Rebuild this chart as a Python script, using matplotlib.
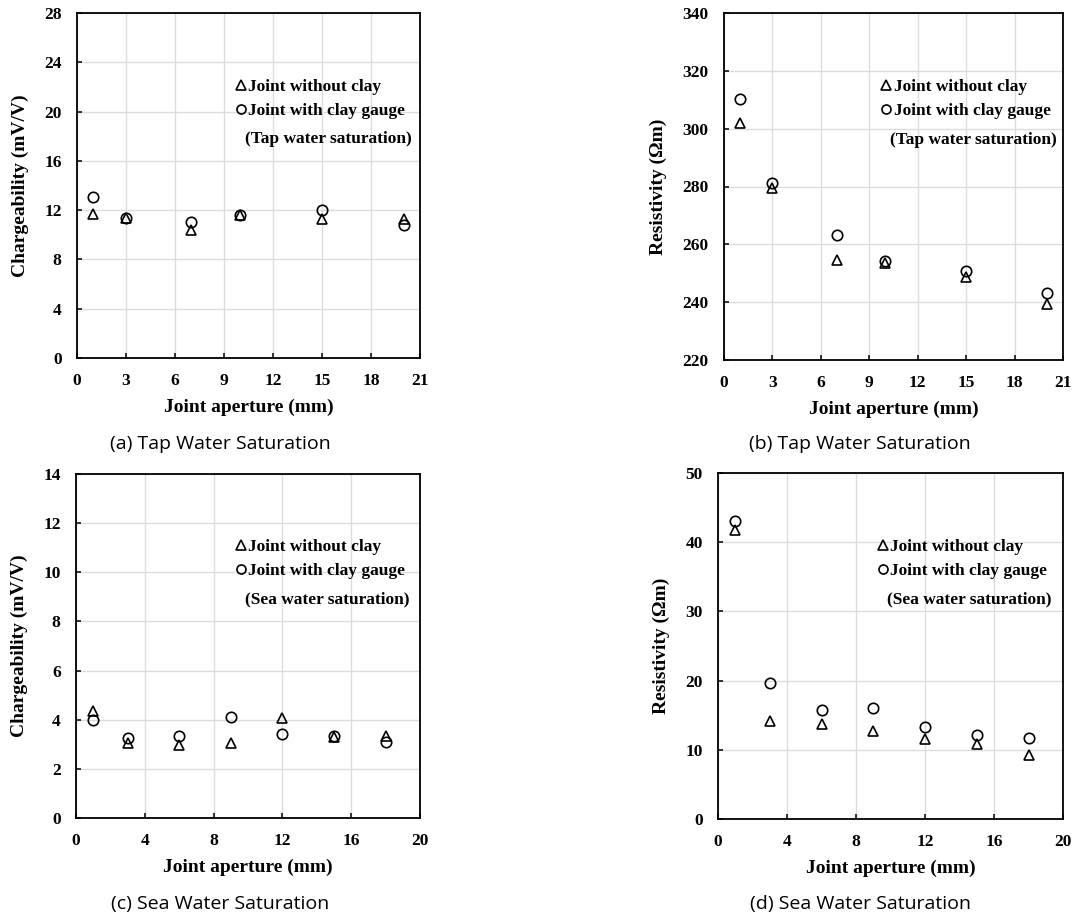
import matplotlib
matplotlib.use("Agg")
import matplotlib.pyplot as plt
from matplotlib.lines import Line2D

# panel (a) / (b): tap water
tap_aperture = [1, 3, 7, 10, 15, 20]
tap_charg_noclay = [11.7, 11.4, 10.4, 11.6, 11.3, 11.3]
tap_charg_clay = [13.1, 11.4, 11.0, 11.6, 12.0, 10.8]
tap_res_noclay = [302.1, 279.5, 254.5, 253.4, 248.7, 239.5]
tap_res_clay = [310.2, 281.3, 263.4, 254.1, 250.7, 243.0]

# panel (c) / (d): sea water
sea_aperture = [1, 3, 6, 9, 12, 15, 18]
sea_charg_noclay = [4.35, 3.06, 2.96, 3.07, 4.07, 3.3, 3.34]
sea_charg_clay = [4.0, 3.25, 3.33, 4.13, 3.41, 3.34, 3.11]
sea_res_noclay = [41.8, 14.1, 13.7, 12.7, 11.6, 10.8, 9.25]
sea_res_clay = [43.0, 19.65, 15.75, 16.0, 13.3, 12.1, 11.75]

captions = ["(a) Tap Water Saturation", "(b) Tap Water Saturation",
            "(c) Sea Water Saturation", "(d) Sea Water Saturation"]

serif = "Liberation Serif"
W, H = 1075, 914
fig = plt.figure(figsize=(W / 100, H / 100), dpi=100)


def make_ax(l, t, r, b):
    return fig.add_axes([l / W, 1 - b / H, (r - l) / W, (b - t) / H])


def style(ax, xlim, xticks, ylim, yticks, ylabel, note):
    ax.set_xlim(*xlim)
    ax.set_ylim(*ylim)
    ax.set_xticks(xticks)
    ax.set_yticks(yticks)
    ax.grid(True, color="#dcdcdc", linewidth=1.0)
    ax.set_axisbelow(True)
    ax.tick_params(axis="both", direction="in", length=3.5, width=1.1)
    ax.tick_params(axis="x", pad=11)
    ax.tick_params(axis="y", pad=11)
    for lab in ax.get_xticklabels() + ax.get_yticklabels():
        lab.set_fontfamily(serif)
        lab.set_fontweight("bold")
        lab.set_fontsize(12.5)
    for s in ax.spines.values():
        s.set_linewidth(1.3)
    ax.set_xlabel("Joint aperture (mm)", fontfamily=serif, fontweight="bold",
                  fontsize=14, labelpad=7)
    ax.set_ylabel(ylabel, fontfamily=serif, fontweight="bold", fontsize=14,
                  labelpad=11)
    handles = [
        Line2D([], [], linestyle="none", marker="^", markersize=7,
               markerfacecolor="none", markeredgecolor="black",
               markeredgewidth=1.2),
        Line2D([], [], linestyle="none", marker="o", markersize=6.5,
               markerfacecolor="none", markeredgecolor="black",
               markeredgewidth=1.2),
    ]
    ax.legend(handles, ["Joint without clay", "Joint with clay gauge"],
              loc="center left", bbox_to_anchor=(0.462, 0.752), frameon=False,
              handletextpad=0.1, handlelength=0.65, labelspacing=0.45,
              borderaxespad=0, borderpad=0,
              prop={"family": serif, "weight": "bold", "size": 12.5})
    ax.text(0.49, 0.635, note, transform=ax.transAxes, ha="left", va="center",
            fontfamily=serif, fontweight="bold", fontsize=12.5)


def scatter(ax, x, y_noclay, y_clay):
    ax.plot(x, y_noclay, linestyle="none", marker="^", markersize=7.5,
            markerfacecolor="none", markeredgecolor="black", markeredgewidth=1.2)
    ax.plot(x, y_clay, linestyle="none", marker="o", markersize=7.5,
            markerfacecolor="none", markeredgecolor="black", markeredgewidth=1.2)


ax_a = make_ax(77, 13, 420, 358)
scatter(ax_a, tap_aperture, tap_charg_noclay, tap_charg_clay)
style(ax_a, (0, 21), range(0, 22, 3), (0, 28), range(0, 29, 4),
      "Chargeability (mV/V)", "(Tap water saturation)")

ax_b = make_ax(724, 13, 1063, 360)
scatter(ax_b, tap_aperture, tap_res_noclay, tap_res_clay)
style(ax_b, (0, 21), range(0, 22, 3), (220, 340), range(220, 341, 20),
      "Resistivity (\u03a9m)", "(Tap water saturation)")

ax_c = make_ax(76, 474, 420, 818)
scatter(ax_c, sea_aperture, sea_charg_noclay, sea_charg_clay)
style(ax_c, (0, 20), range(0, 21, 4), (0, 14), range(0, 15, 2),
      "Chargeability (mV/V)", "(Sea water saturation)")

ax_d = make_ax(718, 473, 1063, 819)
scatter(ax_d, sea_aperture, sea_res_noclay, sea_res_clay)
style(ax_d, (0, 20), range(0, 21, 4), (0, 50), range(0, 51, 10),
      "Resistivity (\u03a9m)", "(Sea water saturation)")

cap_pos = [(220, 444), (860, 444), (220, 904), (860, 904)]
for (cx, cy), txt in zip(cap_pos, captions):
    fig.text(cx / W, 1 - cy / H, txt, ha="center", va="center",
             fontfamily="Open Sans", fontsize=14)

fig.savefig("out.png", dpi=100)
